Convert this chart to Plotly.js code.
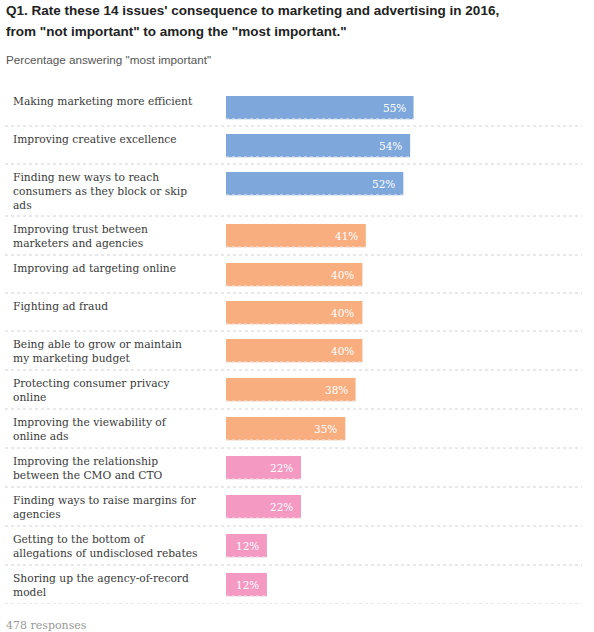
<!DOCTYPE html>
<html>
<head>
<meta charset="utf-8">
<script src="https://cdn.plot.ly/plotly-3.0.1.min.js"></script>
<style>
  html, body { margin: 0; padding: 0; background: #fff; }
  #chart { width: 594px; height: 632px; }
</style>
</head>
<body>
<div id="chart"></div>
<script>
  var issues = [
    'Making marketing more efficient',
    'Improving creative excellence',
    'Finding new ways to reach<br>consumers as they block or skip<br>ads',
    'Improving trust between<br>marketers and agencies',
    'Improving ad targeting online',
    'Fighting ad fraud',
    'Being able to grow or maintain<br>my marketing budget',
    'Protecting consumer privacy<br>online',
    'Improving the viewability of<br>online ads',
    'Improving the relationship<br>between the CMO and CTO',
    'Finding ways to raise margins for<br>agencies',
    'Getting to the bottom of<br>allegations of undisclosed rebates',
    'Shoring up the agency-of-record<br>model'
  ];
  var mostImportant = [55, 54, 52, 41, 40, 40, 40, 38, 35, 22, 22, 12, 12];
  var tier = ['top', 'top', 'top', 'mid', 'mid', 'mid', 'mid', 'mid', 'mid', 'low', 'low', 'low', 'low'];
  var tierColors = { top: '#7ea7db', mid: '#f9ae80', low: '#f49ac2' };

  var titleLines = [
    'Q1. Rate these 14 issues\' consequence to marketing and advertising in 2016,',
    'from "not important" to among the "most important."'
  ];
  var subtitle = 'Percentage answering "most important"';
  var footnote = '478 responses';

  // plot area in pixels
  var plotL = 226, plotR = 585, plotT = 88, plotB = 604;
  var pxPerPct = 3.41;
  var serif = 'DejaVu Serif, serif';
  var sans = 'Liberation Sans, Arial, sans-serif';

  function px2x(px) { return (px - plotL) / (plotR - plotL); }
  function px2y(py) { return (plotB - py) / (plotB - plotT); }

  // row heights grow with the number of label lines
  var rowTops = [], rowBottoms = [], barY = [];
  var rowStart = 0;
  issues.forEach(function (lab) {
    var lines = lab.split('<br>').length;
    var h = Math.max(38, 13 * (lines + 1));
    rowTops.push(rowStart);
    barY.push(rowStart + 8 + 11.65);
    rowStart += h;
    rowBottoms.push(rowStart);
  });

  var trace = {
    type: 'bar',
    orientation: 'h',
    x: mostImportant,
    y: barY,
    width: issues.map(function () { return 23.3; }),
    marker: { color: tier.map(function (t) { return tierColors[t]; }) },
    hoverinfo: 'skip'
  };

  var shapes = [];
  rowBottoms.forEach(function (yb) {
    shapes.push({
      type: 'line', xref: 'paper', yref: 'y',
      x0: px2x(5), x1: px2x(582), y0: yb, y1: yb,
      line: { color: '#d2d2d2', width: 1, dash: '3px,3px' }
    });
  });
  mostImportant.forEach(function (v, i) {
    var yb = barY[i] + 11.3;
    shapes.push({
      type: 'line', xref: 'x', yref: 'y',
      x0: 0, x1: v, y0: yb, y1: yb,
      line: { color: '#e4e4e4', width: 1, dash: '3px,3px' }
    });
  });

  var annotations = [];
  issues.forEach(function (lab, i) {
    annotations.push({
      xref: 'paper', yref: 'y', x: px2x(11), y: rowTops[i] + 5,
      xanchor: 'left', yanchor: 'top', align: 'left', showarrow: false,
      text: lab, font: { family: serif, size: 10.7, color: '#3a3a3a' }
    });
    annotations.push({
      xref: 'x', yref: 'y', x: mostImportant[i], y: barY[i],
      xanchor: 'right', yanchor: 'middle', xshift: -6, showarrow: false,
      text: mostImportant[i] + '%', font: { family: serif, size: 10.5, color: '#ffffff' }
    });
  });
  annotations.push({
    xref: 'paper', yref: 'paper', x: px2x(4), y: px2y(10.5),
    xanchor: 'left', yanchor: 'middle', showarrow: false,
    text: '<b>' + titleLines[0] + '</b>', font: { family: sans, size: 13.5, color: '#222' }
  });
  annotations.push({
    xref: 'paper', yref: 'paper', x: px2x(4), y: px2y(31.5),
    xanchor: 'left', yanchor: 'middle', showarrow: false,
    text: '<b>' + titleLines[1] + '</b>', font: { family: sans, size: 13.5, color: '#222' }
  });
  annotations.push({
    xref: 'paper', yref: 'paper', x: px2x(4), y: px2y(60),
    xanchor: 'left', yanchor: 'middle', showarrow: false,
    text: subtitle, font: { family: sans, size: 11.7, color: '#555' }
  });
  annotations.push({
    xref: 'paper', yref: 'paper', x: px2x(4), y: px2y(625),
    xanchor: 'left', yanchor: 'middle', showarrow: false,
    text: footnote, font: { family: serif, size: 11, color: '#999' }
  });

  var layout = {
    width: 594,
    height: 632,
    margin: { l: plotL, r: 594 - plotR, t: plotT, b: 632 - plotB, pad: 0 },
    paper_bgcolor: '#ffffff',
    plot_bgcolor: '#ffffff',
    showlegend: false,
    xaxis: { range: [0, (plotR - plotL) / pxPerPct], visible: false, fixedrange: true },
    yaxis: { range: [plotB - plotT, 0], visible: false, fixedrange: true },
    shapes: shapes,
    annotations: annotations
  };

  Plotly.newPlot('chart', [trace], layout, { displayModeBar: false, staticPlot: true });
</script>
</body>
</html>
